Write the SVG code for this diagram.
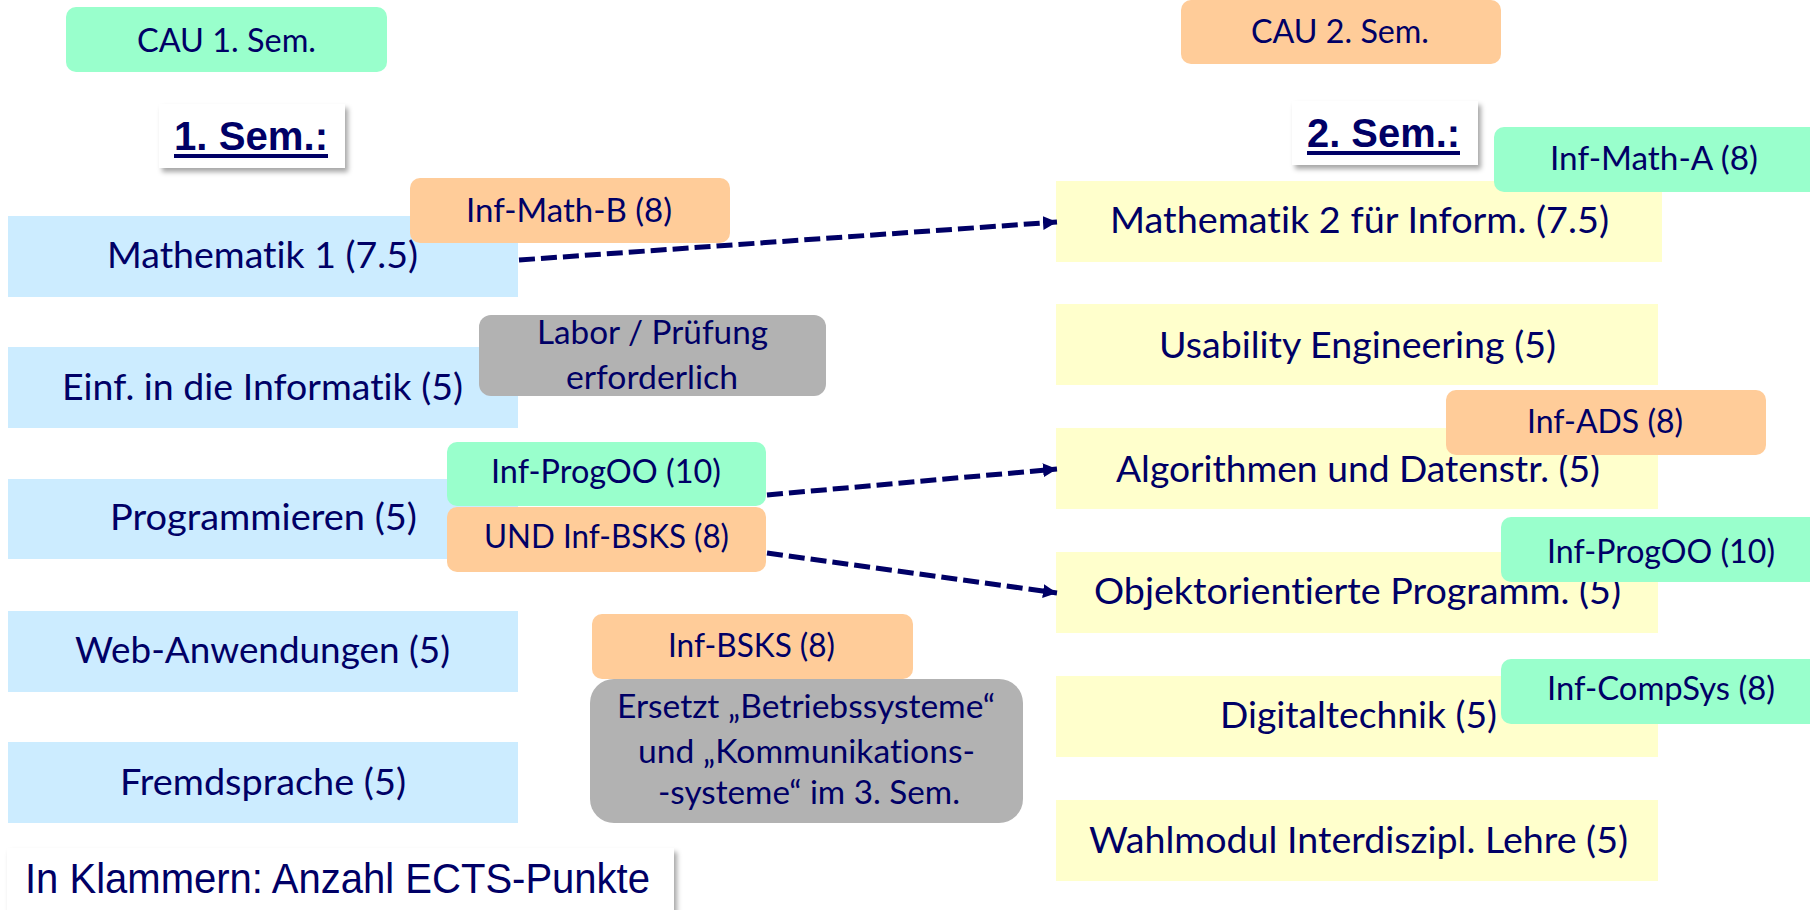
<svg xmlns="http://www.w3.org/2000/svg" width="1810" height="910" viewBox="0 0 1810 910">
<defs>
<style>
.t{font-family:Lato,"Open Sans","Noto Sans",sans-serif;fill:#000066;text-anchor:middle;font-variant-ligatures:none;font-feature-settings:"liga" 0}
.m{font-size:37px}
.s{font-size:33px}
.h{font-family:"Liberation Sans",Arial,sans-serif;font-weight:bold;font-size:41px;fill:#000066}
.blue{fill:#CCECFF}
.yel{fill:#FFFFCC}
.grn{fill:#99FFCC}
.org{fill:#FFCC99}
.gry{fill:#B2B2B2}
.wht{fill:#FFFFFF}
.arr{fill:none;stroke:#000066;stroke-width:5;stroke-dasharray:16 6;marker-end:url(#ah)}
</style>
<filter id="sh" x="-10%" y="-10%" width="130%" height="140%">
<feDropShadow dx="3" dy="4" stdDeviation="2.5" flood-color="#000000" flood-opacity="0.35"/>
</filter>
<marker id="ah" markerUnits="userSpaceOnUse" markerWidth="16" markerHeight="16" refX="14" refY="7" orient="auto">
<path d="M0,0 L14,7 L0,14 z" fill="#000066"/>
</marker>
</defs>
<rect width="1810" height="910" fill="#FFFFFF"/>

<g id="cau1">
<rect class="grn" x="66" y="7" width="321" height="65" rx="10"/>
<text class="t s" x="226.5" y="52" textLength="179" lengthAdjust="spacingAndGlyphs">CAU 1. Sem.</text>
</g>
<g id="cau2">
<rect class="org" x="1181" y="0" width="320" height="64" rx="10"/>
<text class="t s" x="1340" y="43" textLength="178" lengthAdjust="spacingAndGlyphs">CAU 2. Sem.</text>
</g>

<g id="sem1">
<rect class="wht" x="159" y="104" width="186" height="64" filter="url(#sh)"/>
<text class="h" x="174" y="150" textLength="154" lengthAdjust="spacingAndGlyphs">1. Sem.:</text>
<rect x="174" y="154" width="154" height="4" fill="#000066"/>
</g>
<g id="sem2">
<rect class="wht" x="1292" y="101" width="186" height="64" filter="url(#sh)"/>
<text class="h" x="1307" y="147" textLength="153" lengthAdjust="spacingAndGlyphs">2. Sem.:</text>
<rect x="1307" y="151" width="153" height="4" fill="#000066"/>
</g>

<g id="mathe1">
<rect class="blue" x="8" y="216" width="510" height="81"/>
<text class="t m" x="262.5" y="268" textLength="311" lengthAdjust="spacingAndGlyphs">Mathematik 1 (7.5)</text>
</g>
<g id="einf">
<rect class="blue" x="8" y="347" width="510" height="81"/>
<text class="t m" x="262.5" y="400" textLength="401" lengthAdjust="spacingAndGlyphs">Einf. in die Informatik (5)</text>
</g>
<g id="prog">
<rect class="blue" x="8" y="479" width="510" height="80"/>
<text class="t m" x="263.5" y="530" textLength="307" lengthAdjust="spacingAndGlyphs">Programmieren (5)</text>
</g>
<g id="web">
<rect class="blue" x="8" y="611" width="510" height="81"/>
<text class="t m" x="262.5" y="663" textLength="375" lengthAdjust="spacingAndGlyphs">Web-Anwendungen (5)</text>
</g>
<g id="fremd">
<rect class="blue" x="8" y="742" width="510" height="81"/>
<text class="t m" x="263" y="795" textLength="286" lengthAdjust="spacingAndGlyphs">Fremdsprache (5)</text>
</g>

<g id="mathe2">
<rect class="yel" x="1056" y="181" width="606" height="81"/>
<text class="t m" x="1359.5" y="233" textLength="499" lengthAdjust="spacingAndGlyphs">Mathematik 2 für Inform. (7.5)</text>
</g>
<g id="usab">
<rect class="yel" x="1056" y="304" width="602" height="81"/>
<text class="t m" x="1357.5" y="358" textLength="397" lengthAdjust="spacingAndGlyphs">Usability Engineering (5)</text>
</g>
<g id="algo">
<rect class="yel" x="1056" y="428" width="602" height="81"/>
<text class="t m" x="1358" y="482" textLength="484" lengthAdjust="spacingAndGlyphs">Algorithmen und Datenstr. (5)</text>
</g>
<g id="oop">
<rect class="yel" x="1056" y="552" width="602" height="81"/>
<text class="t m" x="1357.5" y="604" textLength="527" lengthAdjust="spacingAndGlyphs">Objektorientierte Programm. (5)</text>
</g>
<g id="digi">
<rect class="yel" x="1056" y="676" width="602" height="81"/>
<text class="t m" x="1358.5" y="728" textLength="277" lengthAdjust="spacingAndGlyphs">Digitaltechnik (5)</text>
</g>
<g id="wahl">
<rect class="yel" x="1056" y="800" width="602" height="81"/>
<text class="t m" x="1358.5" y="853" textLength="539" lengthAdjust="spacingAndGlyphs">Wahlmodul Interdiszipl. Lehre (5)</text>
</g>

<g id="connectors">
<line class="arr" x1="519" y1="260" x2="1057" y2="222"/>
<line class="arr" x1="767" y1="495" x2="1057" y2="469"/>
<line class="arr" x1="767" y1="553" x2="1057" y2="593"/>
</g>

<g id="infmathb">
<rect class="org" x="410" y="178" width="320" height="65" rx="10"/>
<text class="t s" x="569" y="222" textLength="206" lengthAdjust="spacingAndGlyphs">Inf-Math-B (8)</text>
</g>
<g id="labor">
<rect class="gry" x="479" y="315" width="347" height="81" rx="12"/>
<text class="t s" x="652.5" y="344" textLength="231" lengthAdjust="spacingAndGlyphs">Labor / Prüfung</text>
<text class="t s" x="652" y="389" textLength="172" lengthAdjust="spacingAndGlyphs">erforderlich</text>
</g>
<g id="infprogoo1">
<rect class="grn" x="447" y="442" width="319" height="64" rx="10"/>
<text class="t s" x="606" y="483" textLength="230" lengthAdjust="spacingAndGlyphs">Inf-ProgOO (10)</text>
</g>
<g id="undbsks">
<rect class="org" x="447" y="507" width="319" height="65" rx="10"/>
<text class="t s" x="606.5" y="548" textLength="245" lengthAdjust="spacingAndGlyphs">UND Inf-BSKS (8)</text>
</g>
<g id="infbsks">
<rect class="org" x="592" y="614" width="321" height="65" rx="10"/>
<text class="t s" x="751.5" y="657" textLength="167" lengthAdjust="spacingAndGlyphs">Inf-BSKS (8)</text>
</g>
<g id="ersetzt">
<rect class="gry" x="590" y="679" width="433" height="144" rx="24"/>
<text class="t s" x="806" y="718" textLength="378" lengthAdjust="spacingAndGlyphs">Ersetzt „Betriebssysteme“</text>
<text class="t s" x="806.5" y="763" textLength="337" lengthAdjust="spacingAndGlyphs">und „Kommunikations-</text>
<text class="t s" x="809" y="804" textLength="302" lengthAdjust="spacingAndGlyphs">-systeme“ im 3. Sem.</text>
</g>
<g id="infmatha">
<rect class="grn" x="1494" y="127" width="326" height="65" rx="10"/>
<text class="t s" x="1654" y="170" textLength="208" lengthAdjust="spacingAndGlyphs">Inf-Math-A (8)</text>
</g>
<g id="infads">
<rect class="org" x="1446" y="390" width="320" height="65" rx="10"/>
<text class="t s" x="1605" y="433" textLength="156" lengthAdjust="spacingAndGlyphs">Inf-ADS (8)</text>
</g>
<g id="infprogoo2">
<rect class="grn" x="1501" y="517" width="320" height="65" rx="10"/>
<text class="t s" x="1661" y="563" textLength="228" lengthAdjust="spacingAndGlyphs">Inf-ProgOO (10)</text>
</g>
<g id="infcompsys">
<rect class="grn" x="1501" y="659" width="320" height="65" rx="10"/>
<text class="t s" x="1661" y="700" textLength="228" lengthAdjust="spacingAndGlyphs">Inf-CompSys (8)</text>
</g>

<g id="legend">
<rect class="wht" x="7" y="848" width="667" height="70" filter="url(#sh)"/>
<text x="25" y="893" font-family="'Liberation Sans',Arial,sans-serif" font-size="42" fill="#000066" textLength="625" lengthAdjust="spacingAndGlyphs">In Klammern: Anzahl ECTS-Punkte</text>
</g>
</svg>
